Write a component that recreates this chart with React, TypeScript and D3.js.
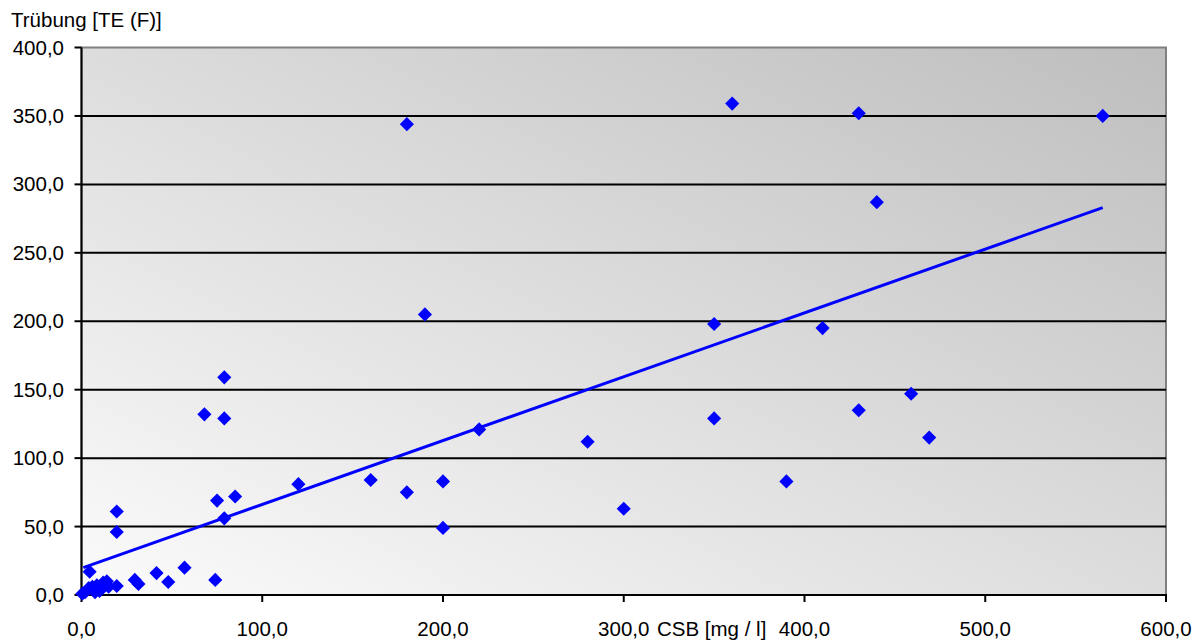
import React from "react";
import * as d3 from "d3";

const csb = [565, 430, 360, 180, 440, 190, 350, 410, 79, 459, 68, 79, 350, 430, 280, 469, 220, 120, 160, 180, 200, 390, 85, 75, 79, 300, 19.5, 19.5, 200, 4.5, 57, 41.5, 74, 29.5, 31.5, 48, 19.5, 0.5, 2, 4, 6, 7.5, 8.5, 10, 12, 14, 15];
const truebung = [350, 352, 359, 344, 287, 205, 198, 195, 159, 147, 132, 129, 129, 135, 112, 115, 121, 81, 84, 75, 83, 83, 72, 69, 56, 63, 61, 46, 49, 17, 20, 16, 11, 11, 8, 9.5, 6.6, 1, 2, 5, 6, 2, 7, 3, 9, 10, 6];
const trendX = [1, 565];
const trendY = [20, 283];
const xTicks = [0, 100, 200, 300, 400, 500, 600];
const yTicks = [0, 50, 100, 150, 200, 250, 300, 350, 400];

const W = 1204, H = 641;
const L = 81.5, R = 1166, T = 47.5, B = 595;

export default function App() {
  const x = d3.scaleLinear().domain([0, 600]).range([L, R]);
  const y = d3.scaleLinear().domain([0, 400]).range([B, T]);
  const fmt = (v: number) => v.toFixed(1).replace(".", ",");
  const line = d3.line<number>().x((d) => x(trendX[d])).y((d) => y(trendY[d]));
  const diamond = d3.symbol().type(d3.symbolSquare).size(100)();
  const font = "'Liberation Sans', Arial, sans-serif";
  return (
    <svg width={W} height={H} style={{ position: "absolute", left: 0, top: 0 }} fontFamily={font}>
      <defs>
        <linearGradient id="bg" x1="0" y1="1" x2="1" y2="0">
          <stop offset="0" stopColor="#fbfbfb" />
          <stop offset="1" stopColor="#bebebe" />
        </linearGradient>
      </defs>
      <rect x={0} y={0} width={W} height={H} fill="#fff" />
      <rect x={L} y={T} width={R - L} height={B - T} fill="url(#bg)" stroke="#808080" strokeWidth={2} />
      {yTicks.filter((v) => v > 0 && v < 400).map((v) => (
        <line key={"g" + v} x1={L} x2={R} y1={y(v)} y2={y(v)} stroke="#000" strokeWidth={2} />
      ))}
      <line x1={L} x2={L} y1={T} y2={B} stroke="#000" strokeWidth={2} />
      <line x1={L} x2={R + 1} y1={B} y2={B} stroke="#000" strokeWidth={2} />
      {yTicks.map((v) => (
        <g key={"y" + v}>
          <line x1={L - 7} x2={L} y1={y(v)} y2={y(v)} stroke="#000" strokeWidth={2} />
          <text x={64} y={y(v) + 7} fontSize={20.5} textAnchor="end" fill="#000">{fmt(v)}</text>
        </g>
      ))}
      {xTicks.map((v) => (
        <g key={"x" + v}>
          <line x1={x(v)} x2={x(v)} y1={B} y2={B + 7} stroke="#000" strokeWidth={2} />
          <text x={x(v)} y={636} fontSize={20.5} textAnchor="middle" fill="#000">{fmt(v)}</text>
        </g>
      ))}
      <text x={657} y={636} fontSize={20.5} fill="#000">CSB [mg / l]</text>
      <text x={11} y={27} fontSize={20.5} fill="#000">Trübung [TE (F)]</text>
      <path d={line([0, 1]) || ""} fill="none" stroke="#0000ff" strokeWidth={3} />
      {csb.map((c, i) => (
        <path key={i} d={diamond} transform={`translate(${x(c)},${y(truebung[i])}) rotate(45)`} fill="#0000ff" />
      ))}
    </svg>
  );
}
